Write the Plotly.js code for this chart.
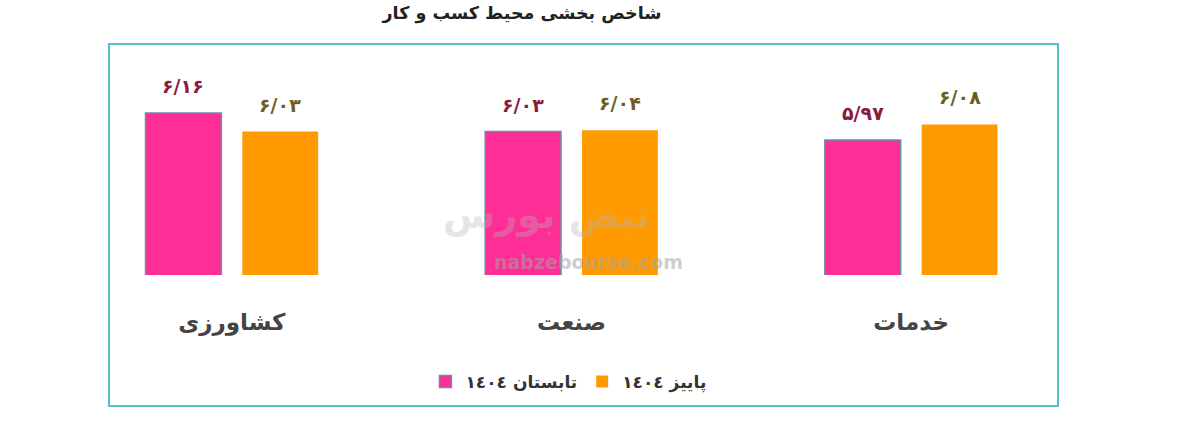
<!DOCTYPE html>
<html>
<head>
<meta charset="utf-8">
<script src="https://cdn.plot.ly/plotly-3.0.1.min.js"></script>
<style>html,body{margin:0;padding:0;background:#fff;}#chart{width:1200px;height:427px;}</style>
</head>
<body>
<div id="chart"></div>
<script>
// ---- data ----
const categories = ['کشاورزی', 'صنعت', 'خدمات'];
const seriesNames = ['تابستان ١٤٠٤', 'پاییز ١٤٠٤'];
const summer1404 = [6.16, 6.03, 5.97];
const autumn1404 = [6.03, 6.04, 6.08];
const chartTitle = 'شاخص بخشی محیط کسب و کار';

// ---- helpers ----
function toPersian(v) {
  const d = '۰۱۲۳۴۵۶۷۸۹';
  return v.toFixed(2).replace('.', '/').replace(/[0-9]/g, c => d[+c]);
}

const FONT = 'DejaVu Sans, Noto Sans, sans-serif';
const pink = '#FF2D96';
const orange = '#FF9A00';

const traces = [
  {
    type: 'bar', name: seriesNames[0], x: categories, y: summer1404,
    marker: {color: pink, line: {color: '#6C8EA0', width: 1.5}},
    hoverinfo: 'none'
  },
  {
    type: 'bar', name: seriesNames[1], x: categories, y: autumn1404,
    marker: {color: orange, line: {width: 0}},
    hoverinfo: 'none'
  }
];

const annotations = [];
categories.forEach((c, i) => {
  annotations.push({x: i, y: summer1404[i], xref: 'x', yref: 'y', xshift: -48.5, yshift: 14,
    yanchor: 'bottom', showarrow: false, text: toPersian(summer1404[i]),
    font: {family: FONT, size: 19, color: '#8A1C40', weight: 'bold'}});
  annotations.push({x: i, y: autumn1404[i], xref: 'x', yref: 'y', xshift: 48.5, yshift: 14,
    yanchor: 'bottom', showarrow: false, text: toPersian(autumn1404[i]),
    font: {family: FONT, size: 19, color: '#6E5E1E', weight: 'bold'}});
});
// faint watermark
annotations.push({xref: 'paper', yref: 'paper', x: 0.517, y: 0.06, yanchor: 'middle', showarrow: false,
  text: 'nabzebourse.com', font: {family: FONT, size: 19, color: 'rgba(165,165,165,0.55)', weight: 'bold'}});
annotations.push({xref: 'paper', yref: 'paper', x: 0.475, y: 0.28, yanchor: 'middle', showarrow: false,
  text: 'نبض بورس', font: {family: FONT, size: 38, color: 'rgba(180,180,180,0.35)', weight: 'bold'}});

const layout = {
  width: 1200, height: 427,
  margin: {l: 62, r: 119, t: 60, b: 152},
  paper_bgcolor: '#ffffff', plot_bgcolor: 'rgba(0,0,0,0)',
  font: {family: FONT},
  title: {text: chartTitle, x: 0.435, xanchor: 'center', y: 0.97, yanchor: 'middle',
    font: {family: FONT, size: 17.5, color: '#222', weight: 'bold'}},
  barmode: 'group', bargap: 0.43, bargroupgap: 0.2165,
  xaxis: {type: 'category', showgrid: false, zeroline: false, showline: false, ticks: '',
    ticklabelstandoff: 31,
    tickfont: {family: FONT, size: 23, color: '#444', weight: 'bold'}, fixedrange: true},
  yaxis: {range: [5.02, 6.534], visible: false, showgrid: false, zeroline: false, fixedrange: true},
  showlegend: true,
  legend: {orientation: 'h', x: 0.497, xanchor: 'center', y: -0.498, yanchor: 'middle',
    font: {family: FONT, size: 17, color: '#333', weight: 'bold'}, itemwidth: 30,
    bgcolor: 'rgba(0,0,0,0)'},
  shapes: [{type: 'rect', xref: 'paper', yref: 'paper', x0: 0.0461, x1: 0.9774, y0: -0.609, y1: 1.0744,
    line: {color: '#5BBCCB', width: 2}, fillcolor: 'rgba(0,0,0,0)', layer: 'below'}],
  annotations: annotations
};

Plotly.newPlot('chart', traces, layout, {staticPlot: true, displayModeBar: false});
</script>
</body>
</html>
